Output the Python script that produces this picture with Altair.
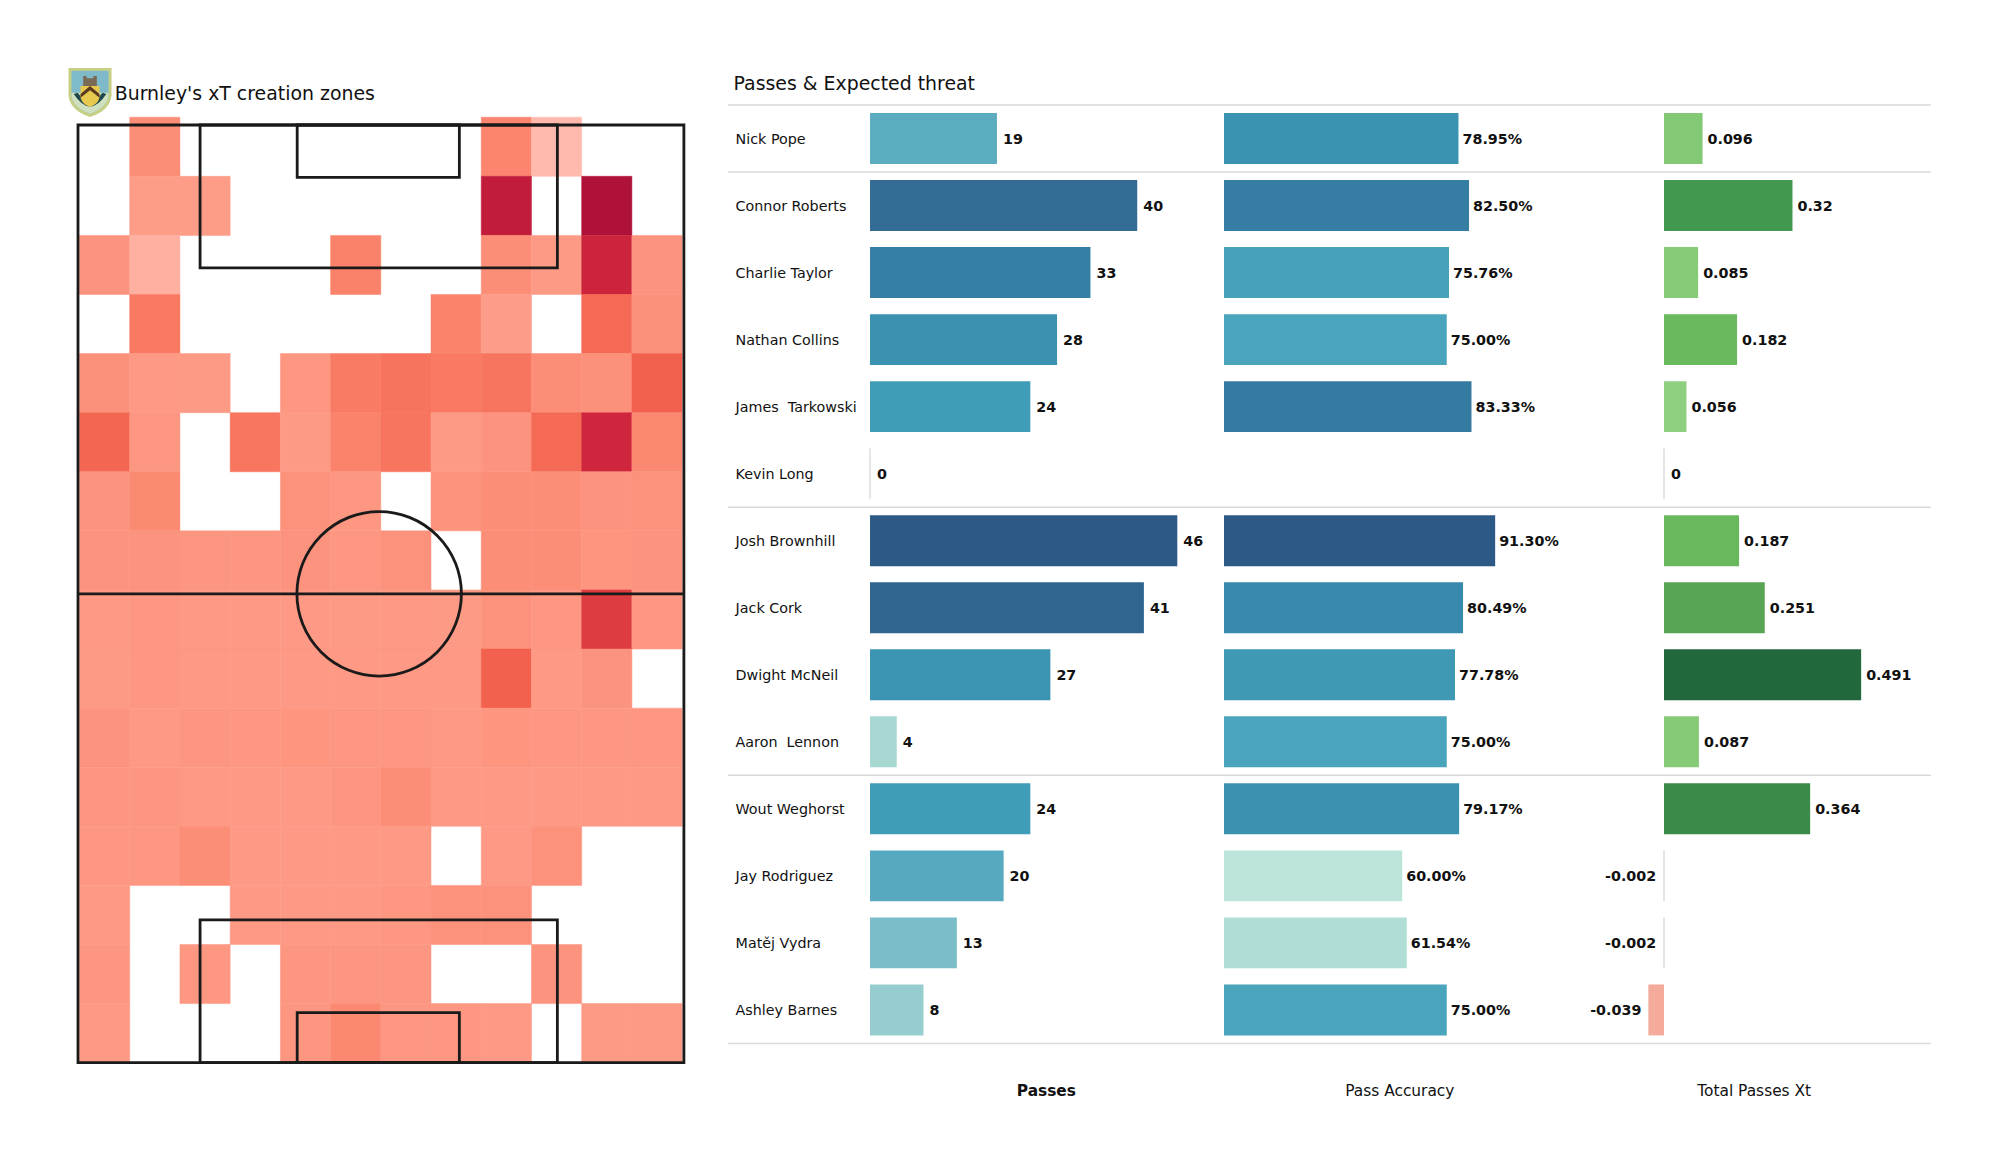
import altair as alt
import pandas as pd

# ---------- data ----------
players = ["Nick Pope", "Connor Roberts", "Charlie Taylor", "Nathan Collins", "James\u00a0 Tarkowski",
           "Kevin Long", "Josh Brownhill", "Jack Cork", "Dwight McNeil", "Aaron\u00a0 Lennon",
           "Wout Weghorst", "Jay Rodriguez", "Matěj Vydra", "Ashley Barnes"]
passes = [19, 40, 33, 28, 24, 0, 46, 41, 27, 4, 24, 20, 13, 8]
accuracy = [78.95, 82.50, 75.76, 75.00, 83.33, None, 91.30, 80.49, 77.78, 75.00, 79.17, 60.00, 61.54, 75.00]
xt = [0.096, 0.32, 0.085, 0.182, 0.056, 0, 0.187, 0.251, 0.491, 0.087, 0.364, -0.002, -0.002, -0.039]
separators = [0, 1, 6, 10, 14]

# xT intensity per zone; None = no creation in the zone
N = None
heat_rows = [
    [N, .30, N, N, N, N, N, N, .36, .00, N, N],
    [N, .19, .19, N, N, N, N, N, .90, N, 1.0, N],
    [.25, .06, N, N, N, .38, N, N, .29, .20, .84, .25],
    [N, .44, N, N, N, N, N, .37, .18, N, .54, .27],
    [.27, .21, .20, N, .22, .43, .48, .44, .47, .29, .27, .60],
    [.57, .22, N, .46, .20, .37, .47, .20, .25, .54, .82, .33],
    [.25, .32, N, N, .26, .22, N, .26, .29, .29, .25, .26],
    [.25, .25, .23, .23, .25, .22, .26, N, .29, .29, .24, .25],
    [.21, .22, .21, .21, .21, .20, .21, .20, .26, .22, .74, .22],
    [.20, .22, .21, .21, .21, .21, .21, .21, .60, .21, .25, N],
    [.25, .21, .23, .22, .24, .22, .22, .21, .24, .22, .22, .22],
    [.23, .23, .21, .21, .21, .23, .29, .21, .21, .21, .21, .21],
    [.22, .22, .30, .21, .21, .21, .21, N, .21, .26, N, N],
    [.21, N, N, .21, .21, .21, .22, .26, .26, N, N, N],
    [.23, N, .22, N, .23, .23, .23, N, N, .25, N, N],
    [.21, N, N, N, .23, .33, .22, .22, .21, N, .20, .20],
]
heat_domain = [0.0, 0.2, 0.4, 0.6, 0.8, 1.0]
heat_colors = ["#ffb9ad", "#fd9a85", "#fa7f68", "#f2614d", "#d4283d", "#ae1238"]

pass_domain = [0, 4, 8, 13, 20, 24, 28, 33, 40, 41, 46]
pass_colors = ["#b5dfd6", "#a8d8d2", "#95cdd0", "#7bbdc8", "#57a9bf", "#409db8", "#3a92b0", "#367fa4", "#336b95", "#30658f", "#2c5986"]
acc_domain = [60, 61.54, 75, 78.95, 82.5, 91.3]
acc_colors = ["#bce4da", "#b0ddd6", "#4aa4bb", "#3a93b1", "#367da3", "#2c5986"]
xt_domain = [-0.039, -0.002, 0, 0.056, 0.182, 0.251, 0.32, 0.364, 0.491]
xt_colors = ["#f5ab9c", "#f7d8d0", "#dddddd", "#8ed07f", "#6bb95f", "#5aa555", "#439850", "#3a8a4a", "#23673c"]

title_left = "Burnley's xT creation zones"
title_right = "Passes & Expected threat"
col_titles = ["Passes", "Pass Accuracy", "Total Passes Xt"]

# ---------- layout ----------
FONT = "DejaVu Sans"
TEXT = "#111111"
PANEL_H = 1102
PITCH_L = 105
GRID_LEFT, GRID_W = 0.17, 67.63
GRID_TOP = -0.87   # heat grid begins slightly above the goal line

# ---------- heat panel ----------
cw, rh = GRID_W / 12, (PITCH_L - GRID_TOP) / 16
heat = pd.DataFrame([
    {"x0": GRID_LEFT + c * cw, "x1": GRID_LEFT + (c + 1) * cw,
     "y0": GRID_TOP + r * rh, "y1": GRID_TOP + (r + 1) * rh, "v": v}
    for r, row in enumerate(heat_rows) for c, v in enumerate(row) if v is not None
])
hx = alt.Scale(domain=[-7.856, 72.95], nice=False, zero=False)
hy = alt.Scale(domain=[-13.10, 110.3], nice=False, zero=False, reverse=True)
heat_scale = alt.Scale(domain=heat_domain, range=heat_colors)

cells = alt.Chart(heat).mark_rect(strokeWidth=0.5).encode(
    x=alt.X("x0:Q", scale=hx, axis=None), x2="x1:Q",
    y=alt.Y("y0:Q", scale=hy, axis=None), y2="y1:Q",
    color=alt.Color("v:Q", legend=None, scale=heat_scale),
    stroke=alt.Stroke("v:Q", legend=None, scale=heat_scale),
)

pitch_rects = pd.DataFrame({
    "x0": [0, 13.7, 24.6, 13.7, 24.6],
    "x1": [68, 53.8, 42.8, 53.8, 42.8],
    "y0": [0, 0, 0, 89.0, 99.4],
    "y1": [105, 16.0, 5.86, 105, 105],
})
LINE = dict(stroke="#1a1a1a", strokeWidth=2.8)
boxes = alt.Chart(pitch_rects).mark_rect(fill=None, **LINE).encode(
    x=alt.X("x0:Q", scale=hx, axis=None), x2="x1:Q",
    y=alt.Y("y0:Q", scale=hy, axis=None), y2="y1:Q")
half = alt.Chart(pd.DataFrame({"x0": [0], "x1": [68], "y": [52.5]})).mark_rule(color="#1a1a1a", strokeWidth=2.8).encode(
    x=alt.X("x0:Q", scale=hx, axis=None), x2="x1:Q", y=alt.Y("y:Q", scale=hy, axis=None))
circle = alt.Chart(pd.DataFrame({"x": [33.8], "y": [52.5]})).mark_point(
    shape="circle", size=27060, filled=False, opacity=1, **LINE
).encode(x=alt.X("x:Q", scale=hx, axis=None), y=alt.Y("y:Q", scale=hy, axis=None))

title_a = alt.Chart(pd.DataFrame({"x": [4.12], "y": [-3.46], "t": [title_left]})).mark_text(
    align="left", baseline="middle", font=FONT, fontSize=18.9, color=TEXT
).encode(x=alt.X("x:Q", scale=hx, axis=None), y=alt.Y("y:Q", scale=hy, axis=None), text="t:N")

# Crest built from symbol shapes sharing one centre and unit
crest_paths = [
    "M-0.95,-1 L0.95,-1 L0.95,0.2 Q0.9,0.85 0,1.17 Q-0.9,0.85 -0.95,0.2 Z",
    "M-0.82,-0.88 L0.82,-0.88 L0.82,0.2 Q0.78,0.72 0,1.02 Q-0.78,0.72 -0.82,0.2 Z",
    "M-0.82,0.1 L0.82,0.1 L0.82,0.2 Q0.78,0.72 0,1.02 Q-0.78,0.72 -0.82,0.2 Z",
    "M-0.72,0.15 Q0,1.25 0.72,0.15 L0.55,0.1 Q0,0.85 -0.55,0.1 Z",
    "M-0.3,-0.65 L-0.15,-0.65 L-0.15,-0.55 L0.15,-0.55 L0.15,-0.65 L0.3,-0.65 L0.3,-0.2 L-0.3,-0.2 Z",
    "M-0.42,-0.2 L0.42,-0.2 L0.42,0.3 Q0.35,0.6 0,0.72 Q-0.35,0.6 -0.42,0.3 Z",
    "M-0.42,0.15 L0,-0.2 L0.42,0.15 L0.42,0.32 L0,-0.02 L-0.42,0.32 Z",
]
crest_fills = ["#c6cf84", "#7fbacb", "#cfe0c0", "#20484a", "#7a6a55", "#e6c94e", "#5a3a20"]
crest_df = pd.DataFrame({"x": 1.35, "y": -3.85, "shape": crest_paths, "fill": crest_fills, "k": range(7)})
crest = alt.layer(*[
    alt.Chart(crest_df.iloc[[i]]).mark_point(shape=p, filled=True, fill=f, size=2050, opacity=1, strokeWidth=0).encode(
        x=alt.X("x:Q", scale=hx, axis=None), y=alt.Y("y:Q", scale=hy, axis=None))
    for i, (p, f) in enumerate(zip(crest_paths, crest_fills))
])

panel_a = alt.layer(cells, boxes, half, circle, crest, title_a).properties(width=720, height=PANEL_H)

# ---------- table panels ----------
table = pd.DataFrame({"player": players, "passes": passes, "accuracy": accuracy, "xt": xt})
table["row"] = range(len(table))
table["y0"] = table["row"] + 0.12
table["y1"] = table["row"] + 0.88
table["ym"] = table["row"] + 0.5
table["zero"] = 0.0
table["pass_label"] = table["passes"].astype(str)
table["acc_label"] = table["accuracy"].map(lambda v: "" if pd.isna(v) else f"{v:.2f}%")
table["xt_label"] = table["xt"].map(lambda v: "0" if v == 0 else f"{v:g}")
acc_table = table.dropna(subset=["accuracy"])

ty = alt.Scale(domain=[-1.447, 14.993], nice=False, zero=False, reverse=True)
Y = alt.Y("y:Q", scale=ty, axis=None)
GRID = "#d9d9d9"

def seps(xs):
    return alt.Chart(pd.DataFrame({"y": separators})).mark_rule(color=GRID, strokeWidth=1.4).encode(
        y=Y, x=alt.value(0), x2=alt.value(xs))

def bars(df, field, xs, domain, colors):
    return alt.Chart(df).mark_rect(strokeWidth=0).encode(
        x=alt.X("zero:Q", scale=xs, axis=None), x2=f"{field}:Q",
        y=alt.Y("y0:Q", scale=ty, axis=None), y2="y1:Q",
        color=alt.Color(f"{field}:Q", legend=None, scale=alt.Scale(domain=domain, range=colors)),
    )

def hairline(df, xs):
    return alt.Chart(df).mark_rule(color="#d4d4d4", strokeWidth=1.2).encode(
        x=alt.X("zero:Q", scale=xs, axis=None),
        y=alt.Y("y0:Q", scale=ty, axis=None), y2="y1:Q")

def labels(df, field, text, xs, dx=6, align="left"):
    return alt.Chart(df).mark_text(
        align=align, baseline="middle", dx=dx, dy=1, font=FONT, fontSize=14.3, fontWeight="bold", color=TEXT
    ).encode(x=alt.X(f"{field}:Q", scale=xs, axis=None),
             y=alt.Y("ym:Q", scale=ty, axis=None), text=f"{text}:N")

def col_title(x, t, xs, weight="normal"):
    return alt.Chart(pd.DataFrame({"x": [x], "y": [14.71], "t": [t]})).mark_text(
        align="center", baseline="middle", font=FONT, fontSize=15.4, fontWeight=weight, color=TEXT
    ).encode(x=alt.X("x:Q", scale=xs, axis=None), y=Y, text="t:N")

# Passes panel (with player names and heading)
px = alt.Scale(domain=[-21.26, 52.99], nice=False, zero=False)
names_df = table.assign(nx=-20.13)
names = alt.Chart(names_df).mark_text(align="left", baseline="middle", dy=1, font=FONT, fontSize=14.3, color=TEXT).encode(
    x=alt.X("nx:Q", scale=px, axis=None), y=alt.Y("ym:Q", scale=ty, axis=None), text="player:N")
head = alt.Chart(pd.DataFrame({"x": [-20.43], "y": [-0.31], "t": [title_right]})).mark_text(
    align="left", baseline="middle", font=FONT, fontSize=18.9, color=TEXT
).encode(x=alt.X("x:Q", scale=px, axis=None), y=Y, text="t:N")
panel_b = alt.layer(
    seps(496), bars(table[table.passes > 0], "passes", px, pass_domain, pass_colors),
    hairline(table[table.passes == 0], px),
    labels(table[table.passes > 0], "passes", "pass_label", px),
    labels(table[table.passes == 0], "passes", "pass_label", px, dx=7),
    names, head, col_title(26.4, col_titles[0], px, "bold"),
).properties(width=496, height=PANEL_H)

# Accuracy panel
ax_ = alt.Scale(domain=[0, 126.6], nice=False, zero=False)
panel_c = alt.layer(
    seps(376), bars(acc_table, "accuracy", ax_, acc_domain, acc_colors),
    labels(acc_table, "accuracy", "acc_label", ax_, dx=4),
    col_title(59.2, col_titles[1], ax_),
).properties(width=376, height=PANEL_H)

# xT panel
xx = alt.Scale(domain=[-0.1594, 0.665], nice=False, zero=False)
panel_d = alt.layer(
    seps(331), bars(table[table.xt.abs() >= 0.01], "xt", xx, xt_domain, xt_colors),
    hairline(table[table.xt.abs() < 0.01], xx),
    labels(table[table.xt > 0], "xt", "xt_label", xx, dx=5),
    labels(table[table.xt == 0], "xt", "xt_label", xx, dx=7),
    labels(table[table.xt < 0], "xt", "xt_label", xx, dx=-7, align="right"),
    col_title(0.2246, col_titles[2], xx),
).properties(width=331, height=PANEL_H)

chart = alt.hconcat(panel_a, panel_b, panel_c, panel_d, spacing=0, bounds="flush").resolve_scale(
    color="independent", x="independent", y="independent"
).configure_view(stroke=None).properties(padding=0, background="white")

chart.save("out.html", embed_options={"renderer": "svg", "actions": False})
